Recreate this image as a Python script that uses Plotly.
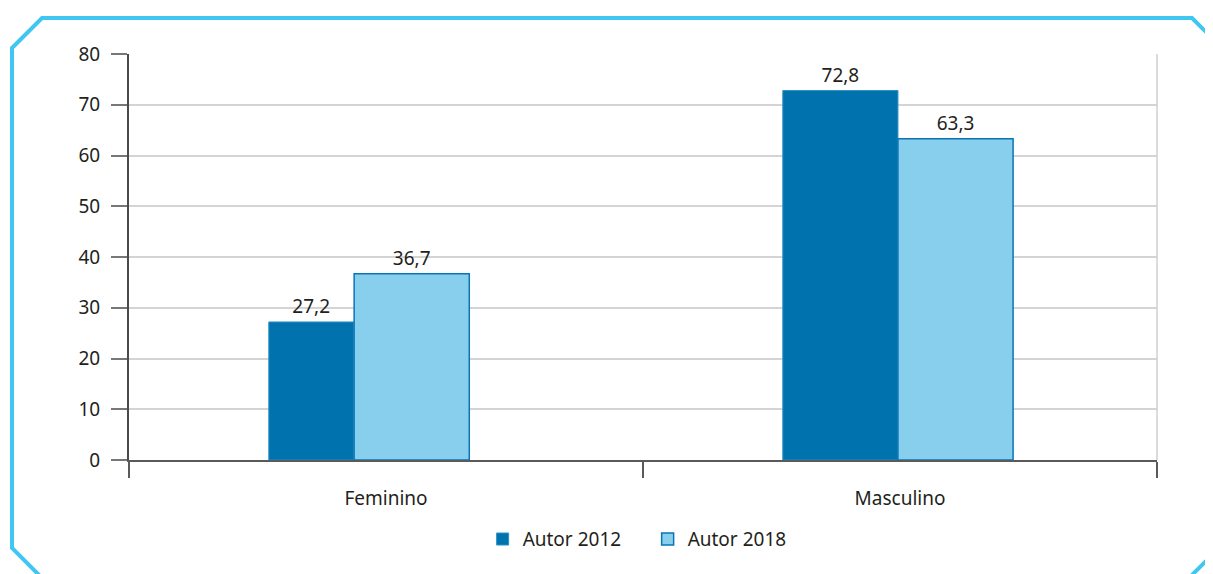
import plotly.graph_objects as go

# dados
categorias = ['Feminino', 'Masculino']
autor_2012 = [27.2, 72.8]
autor_2018 = [36.7, 63.3]
y_ticks = [0, 10, 20, 30, 40, 50, 60, 70, 80]

FONT = 'Noto Sans'
TXT = '#231f20'
FS = 19

fig = go.Figure()
fig.add_trace(go.Bar(
    x=categorias, y=autor_2012, name='Autor 2012',
    marker=dict(color='#0072AE', line=dict(color='#2E8FC8', width=1)),
    offset=[-0.228, -0.228], width=[0.165, 0.224],
    texttemplate='%{y:.1f}', textposition='outside', cliponaxis=False,
    textfont=dict(size=FS, color=TXT, family=FONT),
))
fig.add_trace(go.Bar(
    x=categorias, y=autor_2018, name='Autor 2018',
    marker=dict(color='#88CFEE', line=dict(color='#0A74B6', width=1.5)),
    offset=[-0.062, -0.004], width=[0.224, 0.224],
    texttemplate='%{y:.1f}', textposition='outside', cliponaxis=False,
    textfont=dict(size=FS, color=TXT, family=FONT),
))

# a pagina tem 8px de margem no body
OFF = 8
L, T, W, H = 129 - OFF, 54 - OFF, 1028, 406
FW, FH = 1213 - OFF, 574 - OFF


def px(x, y):
    # pixels da imagem -> coordenadas paper
    return f'{(x - OFF - L) / W:.5f},{(T + H - (y - OFF)) / H:.5f}'


# moldura octogonal azul
pts = [(12, 48), (42, 18), (1192, 18), (1222, 48), (1222, 545),
       (1184, 583), (47, 583), (12, 548)]
path = 'M ' + ' L '.join(px(*p) for p in pts) + ' Z'
fig.add_shape(type='path', path=path, xref='paper', yref='paper',
              line=dict(color='#3FC6F1', width=4), layer='below')
# borda direita da area do grafico
fig.add_shape(type='line', xref='paper', yref='paper', x0=1, x1=1, y0=0, y1=1,
              line=dict(color='#cfcfcf', width=1.5))

fig.update_layout(
    width=FW, height=FH,
    margin=dict(l=L, r=FW - L - W, t=T, b=FH - T - H),
    paper_bgcolor='white', plot_bgcolor='white',
    separators=',.',
    font=dict(family=FONT, size=FS, color=TXT),
    barmode='group',
    showlegend=True,
    legend=dict(orientation='h', x=0.344, xanchor='left', y=-0.195, yanchor='middle',
                font=dict(size=FS, color=TXT), itemwidth=30, entrywidth=120,
                traceorder='normal'),
)
fig.update_xaxes(
    type='category', range=[-0.5, 1.5],
    showline=True, linecolor='#5a5a5a', linewidth=2,
    ticks='outside', tickson='boundaries', ticklen=16, tickcolor='#5a5a5a', tickwidth=2,
    showgrid=False, tickfont=dict(size=FS, color=TXT), ticklabelstandoff=20,
)
fig.update_yaxes(
    range=[0, 80], tickvals=y_ticks,
    showline=True, linecolor='#4a4a4a', linewidth=2, zeroline=False,
    ticks='outside', ticklen=16, tickcolor='#777777', tickwidth=2,
    showgrid=True, gridcolor='#d4d4d4', gridwidth=1.5,
    tickfont=dict(size=FS, color=TXT), ticklabelstandoff=7,
)

fig.write_html('out.html')
